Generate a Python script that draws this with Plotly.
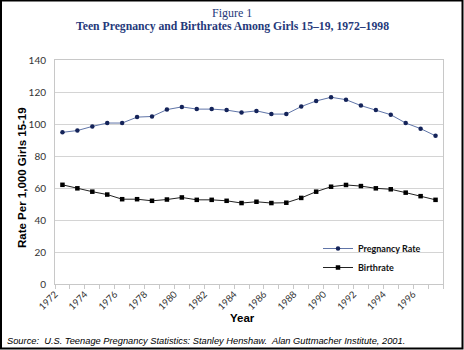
import plotly.graph_objects as go

years = list(range(1972, 1998))
pregnancy_rate = [94.8, 95.9, 98.5, 100.6, 100.6, 104.3, 104.7, 109.0, 110.7, 109.3,
                  109.3, 108.7, 107.2, 108.2, 106.2, 106.2, 110.9, 114.4, 116.7, 115.2,
                  111.5, 108.8, 105.8, 100.6, 97.1, 92.6]
birthrate = [62.0, 59.8, 57.7, 55.9, 53.0, 53.0, 52.0, 52.8, 54.1, 52.6,
             52.6, 52.0, 50.6, 51.4, 50.6, 50.8, 53.8, 57.7, 60.8, 61.9,
             61.2, 59.8, 59.2, 57.1, 54.9, 52.6]
tick_years = list(range(1972, 1998, 2))
tick_labels = [str(y) for y in tick_years]

W, H = 464, 350
ML, MR, MT, MB = 55, 21, 60, 66
PW, PH = W - ML - MR, H - MT - MB

def px_x(p):
    return (p - ML) / PW

def px_y(p):
    return (H - MB - p) / PH

fig = go.Figure()
fig.add_trace(go.Scatter(
    x=years, y=pregnancy_rate, name="<b>Pregnancy Rate</b>", mode="lines+markers",
    line=dict(color="#6075a8", width=1),
    marker=dict(color="#142359", size=4.5, symbol="circle"),
))
fig.add_trace(go.Scatter(
    x=years, y=birthrate, name="<b>Birthrate</b>", mode="lines+markers",
    line=dict(color="#222222", width=1),
    marker=dict(color="#000000", size=4.5, symbol="square"),
))

fig.update_layout(
    width=W, height=H,
    margin=dict(l=ML, r=MR, t=MT, b=MB),
    paper_bgcolor="white", plot_bgcolor="white",
    showlegend=True,
    legend=dict(
        x=px_x(318), y=px_y(234), xanchor="left", yanchor="top",
        bgcolor="rgba(0,0,0,0)",
        font=dict(family="Lato", size=9, color="#111111"),
        tracegroupgap=0, itemwidth=30,
    ),
    font=dict(family="Liberation Sans"),
    annotations=[
        dict(text="Figure 1", x=px_x(232), y=px_y(13), xref="paper", yref="paper",
             xanchor="center", yanchor="middle",
             showarrow=False, font=dict(family="Liberation Serif", size=12, color="#25397a")),
        dict(text="<b>Teen Pregnancy and Birthrates Among Girls 15–19, 1972–1998</b>",
             x=px_x(232), y=px_y(27), xref="paper", yref="paper", showarrow=False,
             xanchor="center", yanchor="middle",
             font=dict(family="Liberation Serif", size=11.7, color="#25397a")),
        dict(text="<i>Source:  U.S. Teenage Pregnancy Statistics: Stanley Henshaw.  Alan Guttmacher Institute, 2001.</i>",
             x=px_x(5), y=px_y(341), xref="paper", yref="paper", xanchor="left", yanchor="middle",
             showarrow=False, font=dict(family="Liberation Sans", size=9.3, color="#000000")),
        dict(text="<b>Rate Per 1,000 Girls 15-19</b>", textangle=-90,
             x=px_x(22), y=px_y(178), xref="paper", yref="paper", xanchor="center", yanchor="middle",
             showarrow=False, font=dict(family="Liberation Sans", size=11.5, color="#000000")),
        dict(text="<b>Year</b>",
             x=px_x(242), y=px_y(318), xref="paper", yref="paper", xanchor="center", yanchor="middle",
             showarrow=False, font=dict(family="Liberation Sans", size=11.5, color="#000000")),
    ],
)

fig.update_xaxes(
    range=[1971.5, 1997.5],
    tickmode="array",
    tickvals=[y - 0.5 for y in tick_years],
    ticktext=tick_labels,
    tickangle=-45,
    ticks="",
    showgrid=False,
    showline=True, linecolor="#c8c8c8", linewidth=1, mirror=True,
    tickfont=dict(family="Lato", size=9.5, color="#333333"),
    minor=dict(ticks="outside", tick0=1971.5, dtick=1, ticklen=4, tickcolor="#c8c8c8", showgrid=False),
    zeroline=False,
)
fig.update_yaxes(
    range=[0, 140], dtick=20,
    showgrid=True, gridcolor="#d4d4d4", gridwidth=1,
    showline=True, linecolor="#c8c8c8", linewidth=1, mirror=True,
    ticks="", ticklabelstandoff=6,
    tickfont=dict(family="Lato", size=10, color="#333333"),
    zeroline=False,
)

fig.add_shape(type="rect", xref="paper", yref="paper",
              x0=px_x(1), x1=px_x(462.5), y0=px_y(348.5), y1=px_y(0.5),
              line=dict(color="black", width=2), layer="above")

fig.write_html("out.html")
